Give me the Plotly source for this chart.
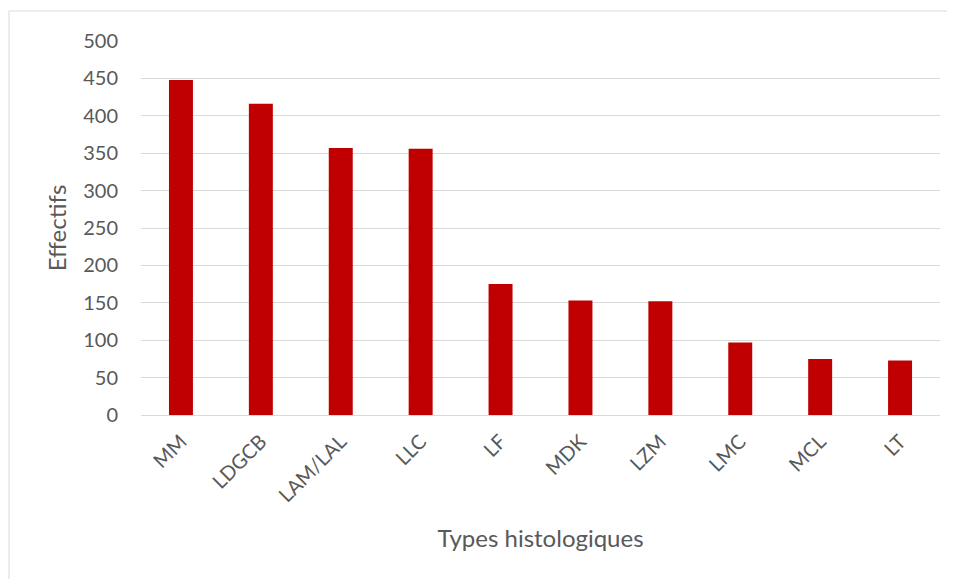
import plotly.graph_objects as go

categories = ["MM", "LDGCB", "LAM/LAL", "LLC", "LF", "MDK", "LZM", "LMC", "MCL", "LT"]
effectifs = [448, 416, 357, 356, 175, 153, 152, 97, 75, 73]
y_ticks = [0, 50, 100, 150, 200, 250, 300, 350, 400, 450, 500]

# page body has an 8px margin, so the figure is sized to fit the window
W, H = 947, 571
ml, mr, mt, mb = 133, 15, 33, 164
pw, ph = W - ml - mr, H - mt - mb
zero_y = H - mb

fig = go.Figure(go.Bar(
    x=categories, y=effectifs,
    marker=dict(color="#c00000", line=dict(width=0)),
))

font = "Lato, Liberation Sans, sans-serif"
fig.update_layout(
    width=W, height=H,
    margin=dict(l=ml, r=mr, t=mt, b=mb),
    paper_bgcolor="white", plot_bgcolor="white",
    bargap=0.7,
    showlegend=False,
    font=dict(family=font, color="#595959"),
    xaxis=dict(
        tickangle=-45, tickfont=dict(size=20, color="#595959"),
        title=dict(text="Types histologiques", font=dict(size=24, color="#595959"), standoff=24),
        showgrid=False, showline=False, zeroline=False,
        ticks="", ticklabelstandoff=10,
    ),
    yaxis=dict(
        range=[0, 500], tickvals=y_ticks,
        tickfont=dict(size=20, color="#595959"),
        title=dict(text="Effectifs", font=dict(size=24, color="#595959"), standoff=9),
        showgrid=True, gridcolor="#d9d9d9", gridwidth=1,
        zeroline=True, zerolinecolor="#d9d9d9", zerolinewidth=1,
        showline=False, ticks="", ticklabelstandoff=22,
    ),
    shapes=[dict(
        type="rect", xref="paper", yref="paper",
        x0=(1 - ml) / pw, x1=(W + 20 - ml) / pw,
        y0=-(H + 20 - zero_y) / ph,
        y1=(zero_y - 3) / ph,
        line=dict(color="#d9d9d9", width=1), fillcolor="rgba(0,0,0,0)",
        layer="below",
    )],
)

fig.write_html("out.html")
